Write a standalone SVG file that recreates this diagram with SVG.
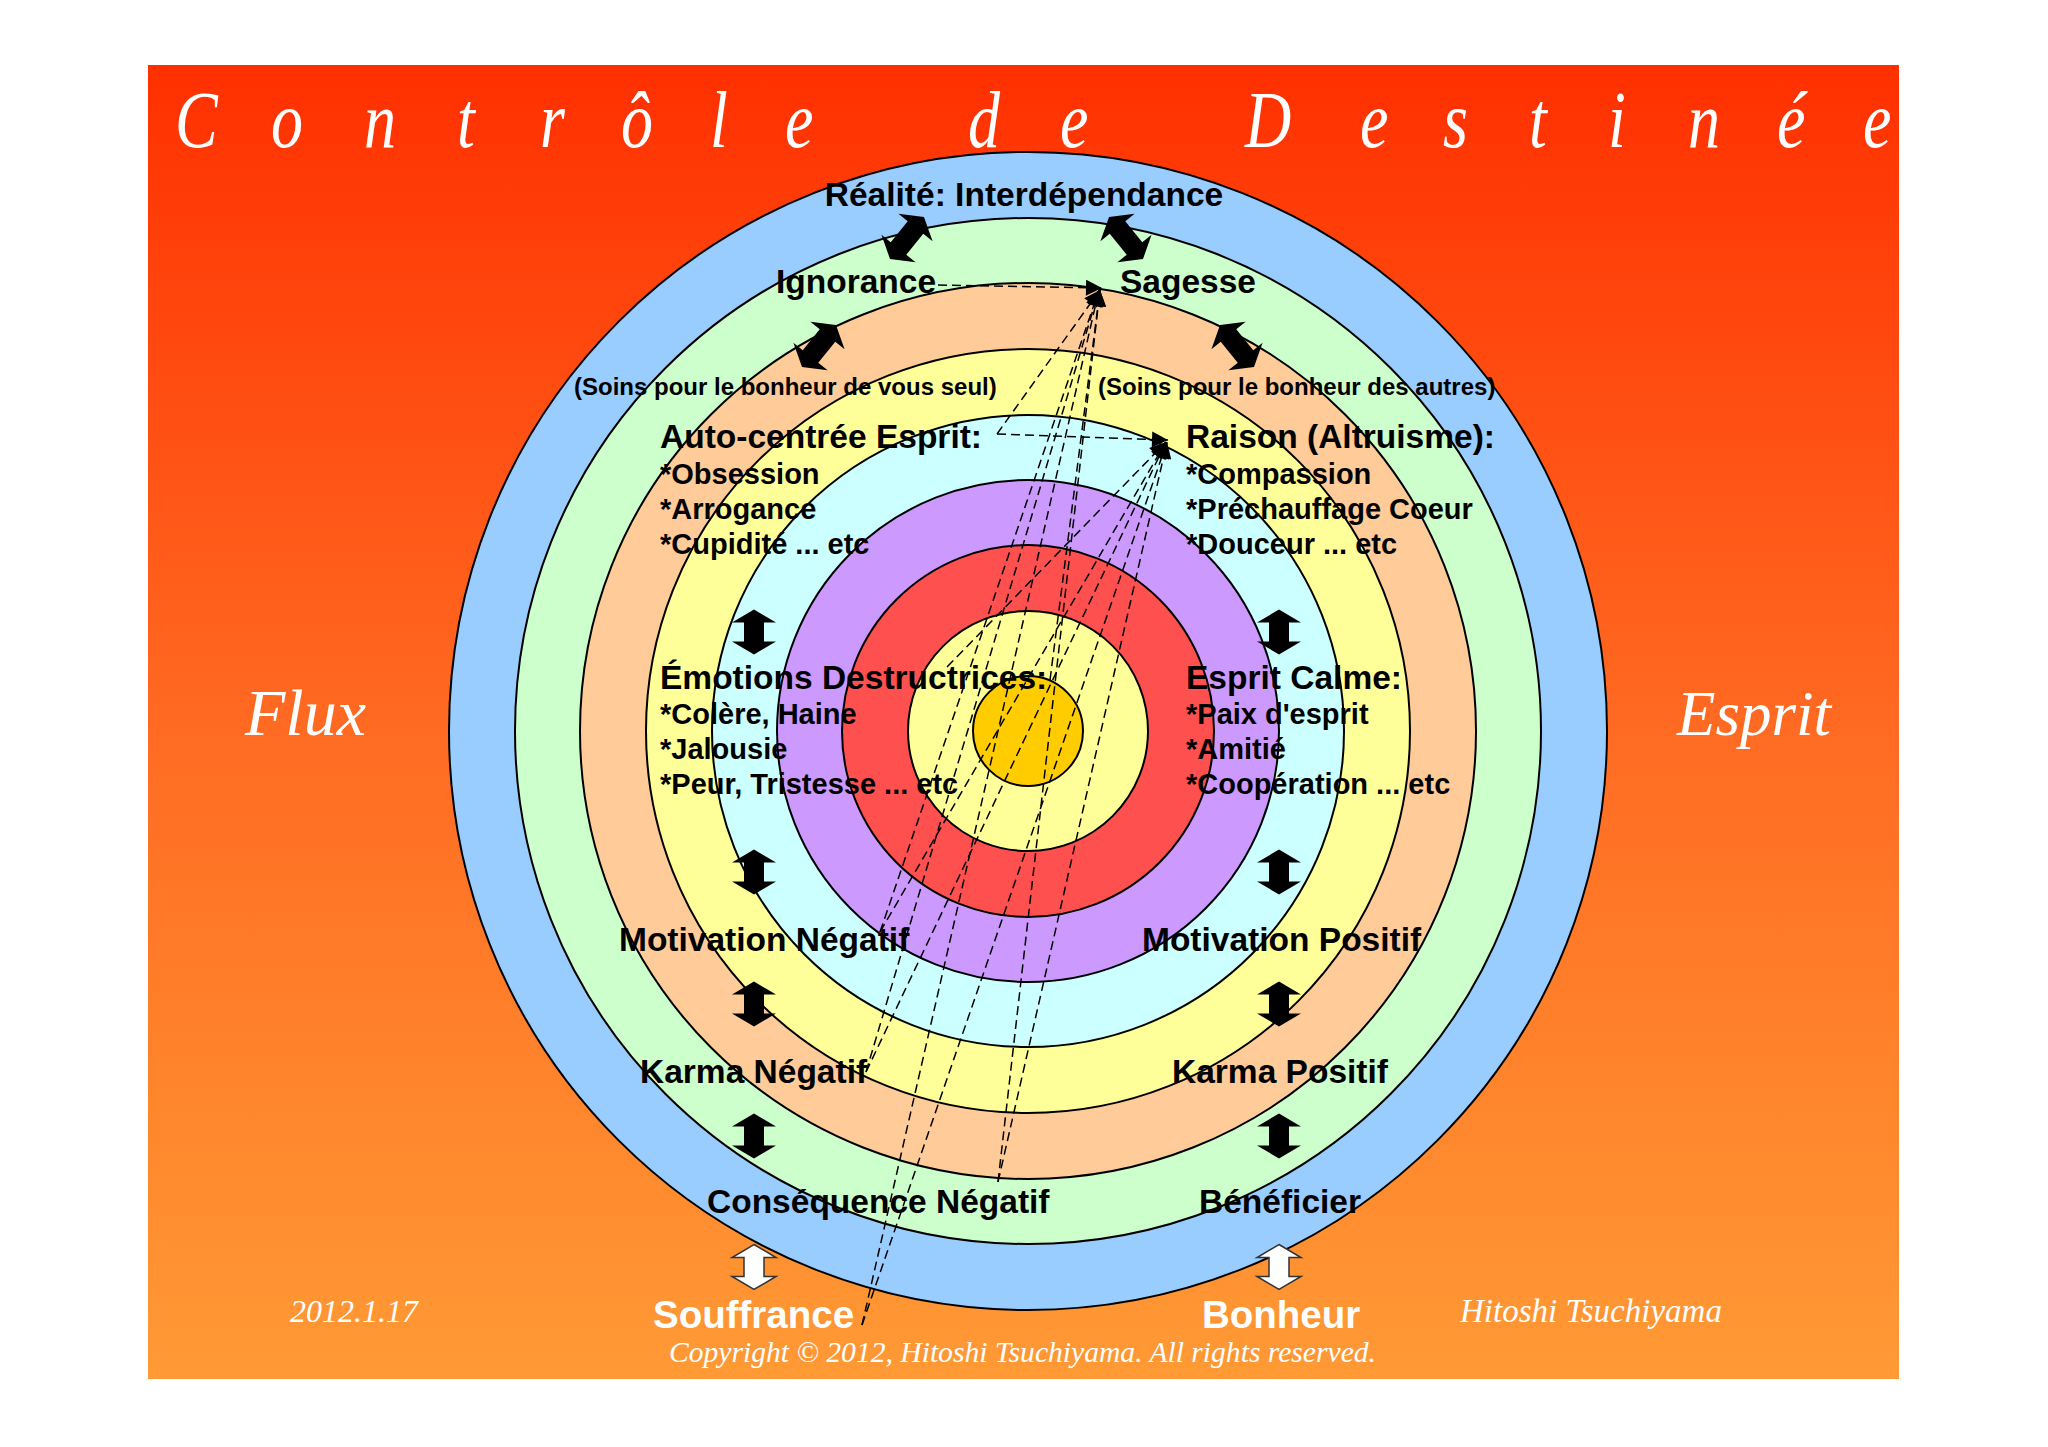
<svg xmlns="http://www.w3.org/2000/svg" width="2048" height="1447" viewBox="0 0 2048 1447">
<defs>
<linearGradient id="bg" x1="0" y1="0" x2="0" y2="1">
<stop offset="0" stop-color="#FF3000"/>
<stop offset="0.5" stop-color="#FF6A22"/>
<stop offset="1" stop-color="#FF9A35"/>
</linearGradient>
<path id="dv" d="M0,-22.5 L22,-9.5 L10,-9.5 L10,9.5 L22,9.5 L0,22.5 L-22,9.5 L-10,9.5 L-10,-9.5 L-22,-9.5 Z"/>
<path id="dt" d="M0,-27 L22,-13.5 L10,-13.5 L10,13.5 L22,13.5 L0,27 L-22,13.5 L-10,13.5 L-10,-13.5 L-22,-13.5 Z"/>
<marker id="ah" viewBox="0 0 10 10" refX="10" refY="5" markerWidth="20" markerHeight="16" markerUnits="userSpaceOnUse" orient="auto"><path d="M0,0 L10,5 L0,10 Z" fill="#000"/></marker>
</defs>
<style>
.ring{stroke:#000;stroke-width:2}
.lb{font-family:"Liberation Sans",Arial,sans-serif;font-weight:bold;fill:#000}
.big{font-size:33.5px}
.sm{font-size:29px}
.xs{font-size:24px}
.wh{fill:#fff;font-size:38.5px}
.it{font-family:"Liberation Serif","Times New Roman",serif;font-style:italic;fill:#fff}
.dash{fill:none;stroke:#000;stroke-width:1.5;stroke-dasharray:9 5;marker-end:url(#ah)}
.ba{fill:#000}
.wa{fill:#fff;stroke:#333;stroke-width:1.5}
</style>
<rect x="0" y="0" width="2048" height="1447" fill="#fff"/>
<rect id="background" x="148" y="65" width="1751" height="1314" fill="url(#bg)"/>
<g id="title">
<text class="it" font-size="80" transform="scale(0.8 1)" y="147" x="218.75 338.75 455 571.25 675 776.25 887.5 981.25 1094 1210 1325 1440 1556.25 1700 1803.75 1911.25 2010 2110 2221.25 2328.75">Contrôle de Destinée</text>
</g>
<g id="rings">
<circle id="ring-blue" class="ring" cx="1028" cy="731" r="579" fill="#99CCFF"/>
<circle id="ring-green" class="ring" cx="1028" cy="731" r="513" fill="#CCFFCC"/>
<circle id="ring-peach" class="ring" cx="1028" cy="731" r="448" fill="#FFCC99"/>
<circle id="ring-yellow" class="ring" cx="1028" cy="731" r="382" fill="#FFFF99"/>
<circle id="ring-cyan" class="ring" cx="1028" cy="731" r="316" fill="#CCFFFF"/>
<circle id="ring-purple" class="ring" cx="1028" cy="731" r="251" fill="#CC99FF"/>
<circle id="ring-red" class="ring" cx="1028" cy="731" r="186" fill="#FF5050"/>
<circle id="ring-lightyellow" class="ring" cx="1028" cy="731" r="120" fill="#FFFF99"/>
<circle id="ring-gold" class="ring" cx="1028" cy="731" r="55" fill="#FFCC00"/>
</g>
<g id="side-labels">
<text id="flux" class="it" font-size="66" x="245" y="735">Flux</text>
<text id="esprit" class="it" font-size="63" x="1677" y="735">Esprit</text>
<text id="date" class="it" font-size="32" x="290" y="1322">2012.1.17</text>
<text id="author" class="it" font-size="33" x="1460" y="1322">Hitoshi Tsuchiyama</text>
<text id="copyright" class="it" font-size="29.6" x="669" y="1362">Copyright © 2012, Hitoshi Tsuchiyama. All rights reserved.</text>
</g>
<g id="node-realite"><text class="lb big" x="1024" y="206" text-anchor="middle">Réalité: Interdépendance</text></g>
<g id="node-ignorance"><text class="lb big" x="776" y="293">Ignorance</text></g>
<g id="node-sagesse"><text class="lb big" x="1120" y="293">Sagesse</text></g>
<g id="node-soins-seul"><text class="lb xs" x="574" y="395">(Soins pour le bonheur de vous seul)</text></g>
<g id="node-soins-autres"><text class="lb xs" x="1098" y="395">(Soins pour le bonheur des autres)</text></g>
<g id="node-autocentree">
<text class="lb big" x="660" y="448">Auto-centrée Esprit:</text>
<text class="lb sm" x="660" y="484">*Obsession</text>
<text class="lb sm" x="660" y="519">*Arrogance</text>
<text class="lb sm" x="660" y="554">*Cupidité ... etc</text>
</g>
<g id="node-raison">
<text class="lb big" x="1186" y="448">Raison (Altruisme):</text>
<text class="lb sm" x="1186" y="484">*Compassion</text>
<text class="lb sm" x="1186" y="519">*Préchauffage Coeur</text>
<text class="lb sm" x="1186" y="554">*Douceur ... etc</text>
</g>
<g id="node-emotions">
<text class="lb big" x="660" y="689">Émotions Destructrices:</text>
<text class="lb sm" x="660" y="724">*Colère, Haine</text>
<text class="lb sm" x="660" y="759">*Jalousie</text>
<text class="lb sm" x="660" y="794">*Peur, Tristesse ... etc</text>
</g>
<g id="node-calme">
<text class="lb big" x="1186" y="689">Esprit Calme:</text>
<text class="lb sm" x="1186" y="724">*Paix d'esprit</text>
<text class="lb sm" x="1186" y="759">*Amitié</text>
<text class="lb sm" x="1186" y="794">*Coopération ... etc</text>
</g>
<g id="node-motivation-neg"><text class="lb big" x="619" y="951">Motivation Négatif</text></g>
<g id="node-motivation-pos"><text class="lb big" x="1142" y="951">Motivation Positif</text></g>
<g id="node-karma-neg"><text class="lb big" x="640" y="1083">Karma Négatif</text></g>
<g id="node-karma-pos"><text class="lb big" x="1172" y="1083">Karma Positif</text></g>
<g id="node-consequence"><text class="lb big" x="707" y="1213">Conséquence Négatif</text></g>
<g id="node-beneficier"><text class="lb big" x="1199" y="1213">Bénéficier</text></g>
<g id="node-souffrance"><text class="lb wh" x="653" y="1328">Souffrance</text></g>
<g id="node-bonheur"><text class="lb wh" x="1202" y="1328">Bonheur</text></g>
<g id="connectors">
<use href="#dt" class="ba" transform="translate(907,238) rotate(39)"/>
<use href="#dt" class="ba" transform="translate(1126,238) rotate(-39)"/>
<use href="#dt" class="ba" transform="translate(819,346) rotate(39)"/>
<use href="#dt" class="ba" transform="translate(1237,346) rotate(-39)"/>
<use href="#dv" class="ba" transform="translate(754,632)"/>
<use href="#dv" class="ba" transform="translate(1279,632)"/>
<use href="#dv" class="ba" transform="translate(754,872)"/>
<use href="#dv" class="ba" transform="translate(1279,872)"/>
<use href="#dv" class="ba" transform="translate(754,1004)"/>
<use href="#dv" class="ba" transform="translate(1279,1004)"/>
<use href="#dv" class="ba" transform="translate(754,1136)"/>
<use href="#dv" class="ba" transform="translate(1279,1136)"/>
<use href="#dv" class="wa" transform="translate(754,1267)"/>
<use href="#dv" class="wa" transform="translate(1279,1267)"/>
<path class="dash" d="M938,285 L1102,288"/>
<path class="dash" d="M997,434 L1168,440"/>
<path class="dash" d="M997,434 L1100,290"/>
<path class="dash" d="M947,667 L1166,442"/>
<path class="dash" d="M1050,680 L1100,290"/>
<path class="dash" d="M880,932 L1099,290"/>
<path class="dash" d="M880,932 L1166,442"/>
<path class="dash" d="M866,1072 L1099,290"/>
<path class="dash" d="M866,1072 L1166,442"/>
<path class="dash" d="M998,1182 L1100,290"/>
<path class="dash" d="M998,1182 L1167,442"/>
<path class="dash" d="M862,1325 L1099,290"/>
<path class="dash" d="M862,1325 L1167,442"/>
</g>
</svg>
